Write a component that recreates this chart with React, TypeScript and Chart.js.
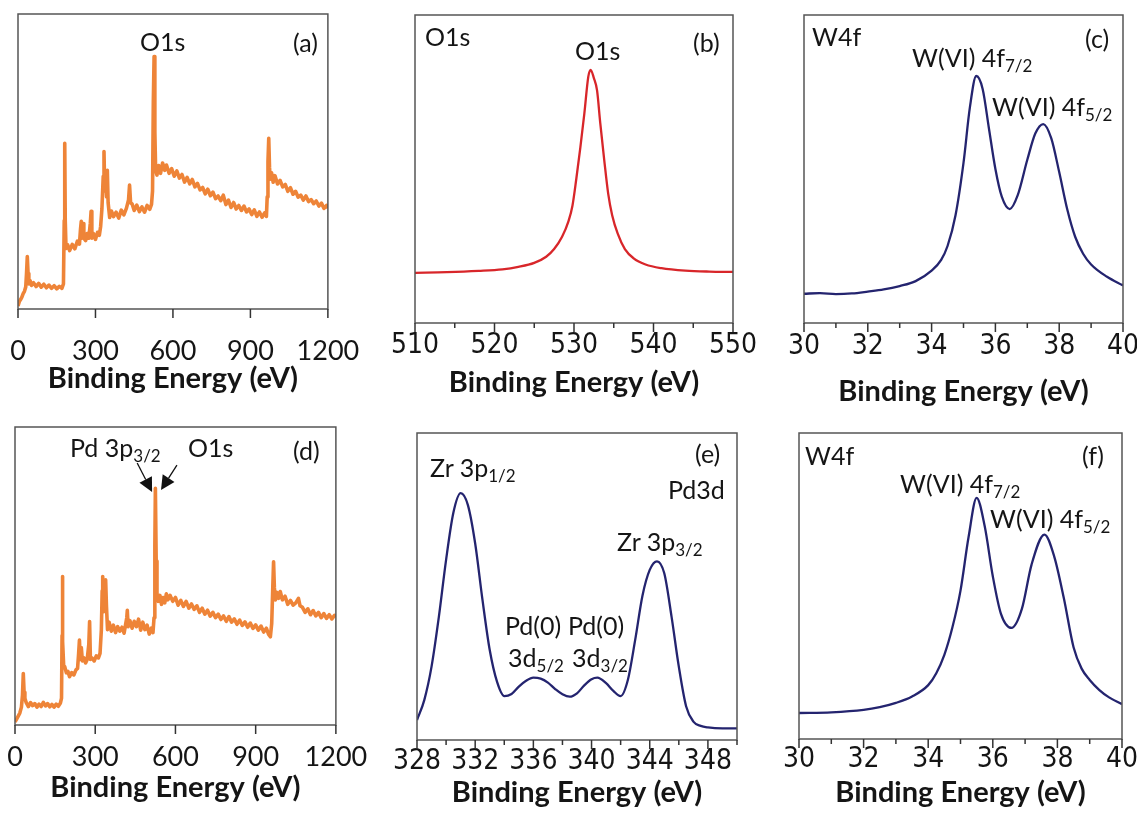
import React, { useEffect, useRef } from "react";
import { Chart, registerables } from "chart.js";

Chart.register(...registerables);

// ---------------- data (binding energy eV, intensity a.u.) ----------------
const surveyA: [number, number][] = [
  [0,1.0],[5,2.5],[10,3.2],[15,4.0],[20,5.2],[25,6.0],[30,7.5],[33,12],[36,17.8],[39,12],[42,8.5],[47,9.6],[52,8.0],[60,8.9],[70,7.6],[80,8.7],[90,7.4],[100,8.4],[110,7.2],[120,8.1],[130,7.0],[140,7.9],[150,6.8],[160,7.7],[170,7.0],[176,8.5],[179,30],[181,56.2],[183,30],[186,20.5],[192,21.8],[200,19.8],[210,21.9],[220,20.4],[230,23.0],[238,22.0],[242,27],[245,29.7],[248,24],[252,29],[255,24],[262,23.2],[268,25.6],[274,24],[280,29],[283,33.1],[286,24],[292,25.6],[300,23.6],[308,26],[315,25],[320,28],[325,34],[330,45],[333,53.4],[336,40],[340,43.8],[343,38],[346,47],[349,36],[355,31],[362,33.2],[370,31.3],[380,32.8],[390,30.8],[400,33.5],[410,31.9],[420,34.2],[428,37],[432,42],[436,36],[442,35.6],[450,33.4],[460,35.2],[470,33],[480,34.6],[490,32.8],[500,35.1],[510,33.8],[517,35.5],[521,40],[524,70],[527,85.6],[530,60],[533,47],[538,45.4],[545,48.6],[552,46],[560,49.5],[568,47],[575,48.8],[585,46],[595,47.6],[605,45],[615,46.8],[625,44.4],[635,45.6],[645,43],[655,44.6],[665,42.4],[675,43.9],[685,41.4],[695,42.6],[705,40.4],[715,41.2],[725,39],[735,40.6],[745,38.4],[755,39.6],[765,37.4],[775,38.3],[785,36.7],[795,38.6],[805,35.4],[815,36.9],[825,34.4],[835,36.1],[845,33.9],[855,35.1],[865,33.4],[875,34.9],[885,32.9],[895,33.9],[905,32],[915,33.6],[925,31.4],[935,32.9],[945,31.1],[955,32.6],[962,31.4],[965,38],[968,50],[971,57.9],[974,48],[977,44],[982,46.2],[988,43],[995,45.2],[1005,42.4],[1015,43.6],[1025,41.4],[1035,42.2],[1045,39.9],[1055,41.1],[1065,38.9],[1075,39.9],[1085,37.9],[1095,38.6],[1105,36.9],[1115,38.3],[1125,36.4],[1135,37.1],[1145,35.7],[1155,36.6],[1165,34.9],[1175,35.9],[1185,34.1],[1195,35.1],[1200,34.2],
];

const o1sB: [number, number][] = [
  [510,16.3],[514,16.5],[518,16.9],[521,17.4],[523,18.2],[525,19.5],[526.5,21.5],[527.5,24],[528.5,28],[529.3,33],[529.8,38],[530.3,47],[530.8,57],[531.3,68],[531.8,80],[532.1,82.2],[532.5,79.5],[532.9,75.5],[533.3,65],[533.8,53],[534.3,42],[534.8,35],[535.5,29],[536.4,24],[537.5,21],[539,19],[541,17.8],[544,17],[547,16.7],[550,16.6],
];

const w4fC: [number, number][] = [
  [30,9.5],[30.5,9.7],[31,9.4],[31.5,9.6],[32,10.2],[32.5,10.9],[33,12.0],[33.5,13.6],[34,17.0],[34.3,20.5],[34.5,25],[34.75,35],[35,52],[35.2,70],[35.4,80.2],[35.6,76],[35.8,63],[36,50],[36.2,41],[36.45,37],[36.7,41.5],[37,53],[37.25,61.5],[37.5,64.6],[37.75,60],[38,49],[38.25,37],[38.5,28],[38.75,22.5],[39,19],[39.5,15],[40,12.2],
];

const surveyD: [number, number][] = [
  [0,1.0],[6,2],[12,3],[18,4],[24,6],[28,10],[31,17.3],[34,11],[37,9],[42,7.5],[50,6.2],[58,7.5],[66,6.5],[74,7.2],[82,6.0],[90,7.0],[98,6.2],[106,7.6],[114,6.4],[122,7.2],[130,6.1],[138,6.9],[146,6.0],[154,7.0],[162,6.3],[170,7.4],[174,9],[176,30],[177,49.8],[179,28],[182,20],[186,19.6],[192,17.5],[198,18],[204,16.2],[212,17.6],[220,16.8],[228,18.5],[234,19],[238,24],[241,28.5],[244,22],[248,26],[252,21.5],[258,22.5],[264,20.8],[270,22],[276,27],[279,34.7],[282,22],[288,22.5],[296,21.5],[304,23.2],[312,22.5],[318,24],[323,32],[326,45],[328,49.8],[331,38],[334,40.8],[337,46],[339,48.7],[342,40],[346,32],[352,34.5],[360,31.5],[368,33.5],[376,31],[384,33],[392,31.5],[400,32.8],[408,30.8],[414,34],[418,36],[420,38.5],[423,33],[430,35],[438,32.5],[446,34.8],[454,33],[462,35.5],[470,31.8],[478,34.5],[486,32],[494,33.5],[502,30.5],[510,32.5],[516,31],[520,36],[523,60],[525,79.4],[528,55],[531,44],[536,41.5],[542,43.5],[548,40.5],[554,42.8],[560,41],[566,44],[572,42],[580,43.5],[590,41.5],[600,42.8],[610,40.2],[620,41.8],[630,39.8],[640,41.5],[650,39.2],[660,40.6],[670,38.8],[680,40],[690,37.8],[700,39.2],[710,37.2],[720,38.5],[730,36.5],[740,37.8],[750,36],[760,37.2],[770,35.4],[780,36.6],[790,34.8],[800,36.4],[810,34.5],[820,35.6],[830,33.8],[840,35.2],[850,33.4],[860,34.6],[870,32.8],[880,34.2],[890,32.4],[900,33.6],[910,31.8],[920,33.2],[930,31.2],[940,32.5],[948,30.5],[955,29.6],[960,34],[964,46],[967,54.8],[970,46],[974,42],[980,44.5],[986,42.5],[992,44.8],[1000,42],[1010,43.2],[1020,40.5],[1030,41.8],[1040,40.2],[1050,41],[1060,42.5],[1066,40],[1075,39.5],[1085,37.8],[1095,39],[1105,37],[1115,38.4],[1125,36.6],[1135,37.8],[1145,36],[1155,37.4],[1165,35.8],[1175,37],[1185,35.6],[1195,36.8],[1200,36.2],
];

const pd3dE: [number, number][] = [
  [328,6.5],[328.5,13],[329,23.9],[329.5,40],[330,58.7],[330.5,74],[331,80.4],[331.5,76.5],[332,64],[332.5,45.7],[333,29.3],[333.5,19],[334,14.3],[334.5,15],[335,17.4],[335.5,19.3],[336,20.3],[336.5,20],[337,18.7],[337.5,16.6],[338,14.9],[338.5,14.1],[339,15.2],[339.5,17.8],[340,19.8],[340.4,20.3],[341,18.5],[341.5,16],[342,14.3],[342.5,19.6],[343,32.6],[343.5,47],[344,55.4],[344.5,58.2],[345,54.3],[345.5,40.2],[346,23.9],[346.5,11],[347,6],[347.5,4.6],[348,4.1],[349,3.8],[350,3.8],
];

const w4fF: [number, number][] = [
  [30,8.5],[31,8.7],[32,9.5],[32.5,10.4],[33,11.8],[33.5,13.9],[34,17.6],[34.25,21.5],[34.5,27.5],[34.75,36.5],[35,48.5],[35.25,66],[35.5,78.8],[35.75,69.5],[36,53.2],[36.25,41],[36.58,36.3],[36.9,42.5],[37.2,57],[37.6,66.8],[37.9,59.7],[38.2,46],[38.5,30],[38.75,23],[39,19.3],[39.3,16],[39.6,13.6],[40,11.4],
];

// arrows in panel (d): [tailEV, tailInt, tipEV, tipInt]
const arrowsD: [number, number, number, number][] = [
  [457, 87.9, 512.7, 78.2],
  [605.6, 87.2, 546, 78.9],
];

// ---------------- styling ----------------
const ORANGE = "#EE8438";
const RED = "#D8262A";
const NAVY = "#24246F";
const FRAME = "#555555";
const TEXT = "#151515";
const LATO = "Lato, 'Open Sans', sans-serif";
const NARROW = "'Liberation Sans Narrow', 'Arial Narrow', 'DejaVu Sans Condensed', 'Liberation Sans', sans-serif";

type Box = { l: number; t: number; r: number; b: number };
type PanelCfg = {
  id: string;
  box: Box;
  labelsY: number;
  titleY: number;
  xMin: number;
  xMax: number;
  step: number;
  labelStep: number;
  tickFont: { family: string; size: number };
  majorLen: number;
  data: [number, number][];
  color: string;
  lineWidth: number;
  smooth: boolean;
  arrows?: [number, number, number, number][];
};

const PANELS: PanelCfg[] = [
  { id: "a", box: { l: 18, t: 14, r: 340, b: 309 }, labelsY: 351, titleY: 379, xMin: 0, xMax: 1200, step: 300, labelStep: 300, tickFont: { family: LATO, size: 27 }, majorLen: 9, data: surveyA, color: ORANGE, lineWidth: 3.6, smooth: false },
  { id: "b", box: { l: 415, t: 15, r: 733, b: 323 }, labelsY: 346, titleY: 383, xMin: 510, xMax: 550, step: 5, labelStep: 10, tickFont: { family: NARROW, size: 28 }, majorLen: 9, data: o1sB, color: RED, lineWidth: 2.3, smooth: true },
  { id: "c", box: { l: 804, t: 15, r: 1123, b: 323 }, labelsY: 347, titleY: 392, xMin: 30, xMax: 40, step: 1, labelStep: 2, tickFont: { family: NARROW, size: 28 }, majorLen: 9, data: w4fC, color: NAVY, lineWidth: 2.3, smooth: true },
  { id: "d", box: { l: 15, t: 427, r: 338, b: 725 }, labelsY: 757, titleY: 788, xMin: 0, xMax: 1200, step: 300, labelStep: 300, tickFont: { family: LATO, size: 27 }, majorLen: 9, data: surveyD, color: ORANGE, lineWidth: 3.6, smooth: false, arrows: arrowsD },
  { id: "e", box: { l: 417, t: 433, r: 737, b: 740 }, labelsY: 762, titleY: 793, xMin: 328, xMax: 350, step: 2, labelStep: 4, tickFont: { family: NARROW, size: 28 }, majorLen: 9, data: pd3dE, color: NAVY, lineWidth: 2.3, smooth: true },
  { id: "f", box: { l: 799, t: 433, r: 1122, b: 739 }, labelsY: 760, titleY: 793, xMin: 30, xMax: 40, step: 1, labelStep: 2, tickFont: { family: NARROW, size: 28 }, majorLen: 9, data: w4fF, color: NAVY, lineWidth: 2.3, smooth: true },
];

type Lbl = { x: number; y: number; t: string; s?: string };
const LABELS: Lbl[] = [
  { x: 140, y: 41, t: "O1s" }, { x: 293, y: 42, t: "(a)" },
  { x: 425, y: 36, t: "O1s" }, { x: 693, y: 42, t: "(b)" }, { x: 575, y: 50, t: "O1s" },
  { x: 812, y: 36, t: "W4f" }, { x: 1085, y: 38, t: "(c)" }, { x: 912, y: 57, t: "W(VI) 4f", s: "7/2" }, { x: 992, y: 106, t: "W(VI) 4f", s: "5/2" },
  { x: 70, y: 447, t: "Pd 3p", s: "3/2" }, { x: 188, y: 447, t: "O1s" }, { x: 293, y: 450, t: "(d)" },
  { x: 430, y: 467, t: "Zr 3p", s: "1/2" }, { x: 695, y: 453, t: "(e)" }, { x: 668, y: 489, t: "Pd3d" }, { x: 617, y: 541, t: "Zr 3p", s: "3/2" },
  { x: 505, y: 625, t: "Pd(0)" }, { x: 568, y: 625, t: "Pd(0)" }, { x: 508, y: 657, t: "3d", s: "5/2" }, { x: 572, y: 657, t: "3d", s: "3/2" },
  { x: 805, y: 455, t: "W4f" }, { x: 1082, y: 455, t: "(f)" }, { x: 900, y: 483, t: "W(VI) 4f", s: "7/2" }, { x: 990, y: 518, t: "W(VI) 4f", s: "5/2" },
];

const PADX = 45;
const PADT = 6;
const TITLE_SIZE = 29;

function isMajor(cfg: PanelCfg, v: number) {
  const q = (v - cfg.xMin) / cfg.labelStep;
  return Math.abs(q - Math.round(q)) < 1e-6;
}

function makeFramePlugin(cfg: PanelCfg) {
  return {
    id: "frame_" + cfg.id,
    afterDraw(chart: any) {
      const { ctx, chartArea } = chart;
      const { left, top, right, bottom } = chartArea;
      const xs = chart.scales.x;
      const ys = chart.scales.y;
      ctx.save();
      ctx.strokeStyle = FRAME;
      ctx.lineWidth = 1.5;
      ctx.strokeRect(left, top, right - left, bottom - top);
      ctx.strokeStyle = "#333";
      xs.ticks.forEach((t: any) => {
        const px = xs.getPixelForValue(t.value);
        const len = isMajor(cfg, t.value) ? cfg.majorLen : 5;
        ctx.beginPath();
        ctx.moveTo(px, bottom);
        ctx.lineTo(px, bottom + len);
        ctx.stroke();
      });
      if (cfg.arrows) {
        ctx.strokeStyle = "#111";
        ctx.fillStyle = "#111";
        ctx.lineWidth = 1.3;
        cfg.arrows.forEach(([x0, y0, x1, y1]) => {
          const ax = xs.getPixelForValue(x0), ay = ys.getPixelForValue(y0);
          const bx = xs.getPixelForValue(x1), by = ys.getPixelForValue(y1);
          const ang = Math.atan2(by - ay, bx - ax);
          const hl = 14, hw = 7;
          const baseX = bx - hl * Math.cos(ang), baseY = by - hl * Math.sin(ang);
          ctx.beginPath();
          ctx.moveTo(ax, ay);
          ctx.lineTo(baseX, baseY);
          ctx.stroke();
          ctx.beginPath();
          ctx.moveTo(bx, by);
          ctx.lineTo(baseX + hw * Math.sin(ang), baseY - hw * Math.cos(ang));
          ctx.lineTo(baseX - hw * Math.sin(ang), baseY + hw * Math.cos(ang));
          ctx.closePath();
          ctx.fill();
        });
      }
      ctx.restore();
    },
  };
}

function Panel({ cfg }: { cfg: PanelCfg }) {
  const ref = useRef<HTMLCanvasElement>(null);
  const w = cfg.box.r - cfg.box.l + 2 * PADX;
  const top = cfg.box.t - PADT;
  const bottomEdge = cfg.titleY + (TITLE_SIZE * 1.2) / 2;
  const h = Math.round(bottomEdge - top);
  const axisH = h - (cfg.box.b - top);
  const tickPad = cfg.labelsY - cfg.box.b - (cfg.tickFont.size * 1.2) / 2;

  useEffect(() => {
    if (!ref.current) return;
    const chart = new Chart(ref.current, {
      type: "line",
      data: {
        datasets: [
          {
            data: cfg.data.map(([x, y]) => ({ x, y })),
            borderColor: cfg.color,
            borderWidth: cfg.lineWidth,
            pointRadius: 0,
            fill: false,
            tension: cfg.smooth ? 0.4 : 0,
            cubicInterpolationMode: cfg.smooth ? "monotone" : "default",
            borderJoinStyle: "round",
          } as any,
        ],
      },
      options: {
        animation: false,
        responsive: false,
        maintainAspectRatio: false,
        parsing: false as any,
        layout: { padding: { left: PADX, right: PADX, top: PADT, bottom: 0 } },
        plugins: { legend: { display: false }, tooltip: { enabled: false }, title: { display: false } },
        scales: {
          x: {
            type: "linear",
            min: cfg.xMin,
            max: cfg.xMax,
            grid: { display: false, drawTicks: false, drawOnChartArea: false },
            border: { display: false },
            ticks: {
              stepSize: cfg.step,
              autoSkip: false,
              maxRotation: 0,
              minRotation: 0,
              padding: tickPad,
              color: TEXT,
              font: { family: cfg.tickFont.family, size: cfg.tickFont.size },
              callback: (v: any) => (isMajor(cfg, Number(v)) ? String(v) : ""),
            },
            title: {
              display: true,
              text: "Binding Energy (eV)",
              color: TEXT,
              padding: { top: 0, bottom: 0 },
              font: { family: LATO, size: TITLE_SIZE, weight: "bold" },
            },
            afterFit: (scale: any) => {
              scale.height = axisH;
            },
          },
          y: { type: "linear", display: false, min: 0, max: 100 },
        },
      },
      plugins: [makeFramePlugin(cfg)],
    });
    return () => chart.destroy();
  }, []);

  return (
    <canvas
      ref={ref}
      width={w}
      height={h}
      style={{ position: "absolute", left: cfg.box.l - PADX, top, width: w, height: h }}
    />
  );
}

export default function App() {
  return (
    <div style={{ position: "absolute", left: 0, top: 0, width: 1137, height: 814, background: "#fff", overflow: "hidden" }}>
      {PANELS.map((p) => (
        <Panel key={p.id} cfg={p} />
      ))}
      {LABELS.map((l, i) => (
        <div
          key={i}
          style={{
            position: "absolute",
            left: l.x,
            top: l.y,
            transform: "translateY(-50%)",
            fontFamily: LATO,
            fontSize: 25,
            lineHeight: "30px",
            color: TEXT,
            whiteSpace: "nowrap",
          }}
        >
          {l.t}
          {l.s ? (
            <span style={{ fontSize: "0.68em", verticalAlign: "-0.3em", lineHeight: 0 }}>{l.s}</span>
          ) : null}
        </div>
      ))}
    </div>
  );
}
